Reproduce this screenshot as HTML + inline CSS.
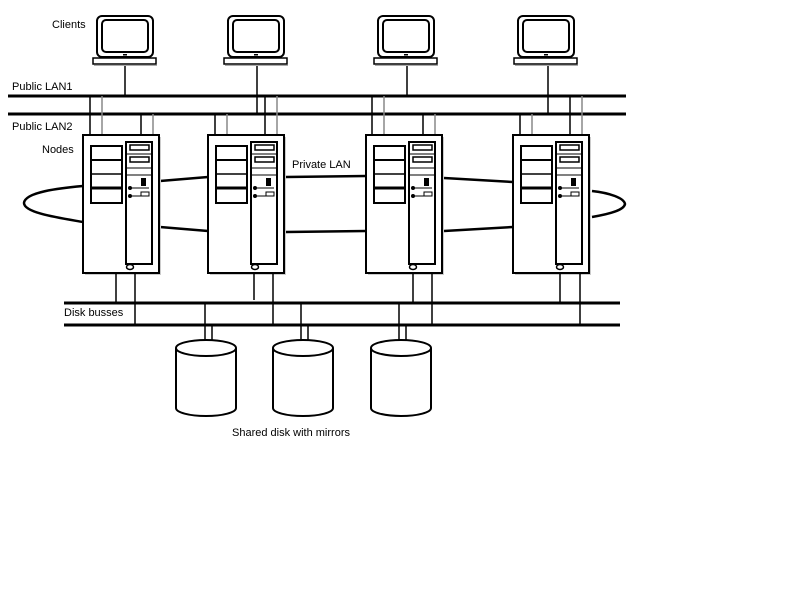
<!DOCTYPE html>
<html><head><meta charset="utf-8"><style>
html,body{margin:0;padding:0;background:#fff;width:800px;height:600px;overflow:hidden}
text{font-family:"Liberation Sans",sans-serif;font-size:11px;fill:#000}
</style></head><body>
<svg width="800" height="600" xmlns="http://www.w3.org/2000/svg">
<defs>
<g id="laptop">
 <rect x="-28" y="16" width="56" height="41" rx="5" fill="#fff" stroke="#000" stroke-width="2"/>
 <rect x="-23" y="20" width="46" height="32" rx="4" fill="#fff" stroke="#000" stroke-width="2"/>
 <rect x="-2" y="54" width="4" height="1.5" fill="#000"/>
 <rect x="-32" y="58" width="63" height="6" fill="#fff" stroke="#000" stroke-width="1.5"/>
 <line x1="-31" y1="65.5" x2="32" y2="65.5" stroke="#aaa" stroke-width="1"/>
</g>
<g id="node">
 <rect x="2" y="2" width="76" height="138" fill="#ccc"/>
 <rect x="0" y="0" width="76" height="138" fill="#fff" stroke="#000" stroke-width="2"/>
 <rect x="8" y="11" width="31" height="57" fill="#fff" stroke="#000" stroke-width="2"/>
 <line x1="8" y1="25" x2="39" y2="25" stroke="#000" stroke-width="2"/>
 <line x1="8" y1="39" x2="39" y2="39" stroke="#000" stroke-width="1.5"/>
 <line x1="8" y1="53" x2="39" y2="53" stroke="#000" stroke-width="3"/>
 <rect x="43" y="7" width="26" height="122" fill="#fff" stroke="#000" stroke-width="2"/>
 <rect x="47" y="10" width="19" height="5" fill="#fff" stroke="#000" stroke-width="1.5"/>
 <rect x="47" y="22" width="19" height="5" fill="#fff" stroke="#000" stroke-width="1.5"/>
 <line x1="43" y1="19" x2="69" y2="19" stroke="#000" stroke-width="1"/>
 <line x1="43" y1="33" x2="69" y2="33" stroke="#000" stroke-width="1"/>
 <line x1="43" y1="40" x2="69" y2="40" stroke="#000" stroke-width="1"/>
 <rect x="58" y="43" width="5" height="8" fill="#000"/>
 <circle cx="47" cy="53" r="2" fill="#000"/>
 <line x1="47" y1="53" x2="66" y2="53" stroke="#000" stroke-width="1"/>
 <circle cx="47" cy="61" r="2" fill="#000"/>
 <line x1="47" y1="61" x2="66" y2="61" stroke="#000" stroke-width="1"/>
 <rect x="58" y="57" width="8" height="4" fill="#fff" stroke="#000" stroke-width="1"/>
 <ellipse cx="47" cy="132" rx="3.5" ry="2.5" fill="#fff" stroke="#000" stroke-width="1.5"/>
</g>
<g id="disk">
 <path d="M0,10 L0,70 A30,8 0 0 0 60,70 L60,10" fill="#fff" stroke="#000" stroke-width="2"/>
 <ellipse cx="30" cy="10" rx="30" ry="8" fill="#fff" stroke="#000" stroke-width="2"/>
</g>
</defs>

<text x="52" y="28">Clients</text>
<text x="12" y="90">Public LAN1</text>
<text x="12" y="130">Public LAN2</text>
<text x="42" y="153">Nodes</text>
<text x="292" y="168">Private LAN</text>
<text x="64" y="316">Disk busses</text>
<text x="232" y="436">Shared disk with mirrors</text>

<!-- laptop stems -->
<g stroke="#000" stroke-width="1.5">
<line x1="125" y1="65" x2="125" y2="96"/>
<line x1="257" y1="65" x2="257" y2="114"/>
<line x1="407" y1="65" x2="407" y2="96"/>
<line x1="548" y1="65" x2="548" y2="114"/>
</g>
<g transform="translate(125,0)"><use href="#laptop"/></g>
<g transform="translate(256,0)"><use href="#laptop"/></g>
<g transform="translate(406,0)"><use href="#laptop"/></g>
<g transform="translate(546,0)"><use href="#laptop"/></g>

<!-- LANs -->
<line x1="8" y1="96" x2="626" y2="96" stroke="#000" stroke-width="3"/>
<line x1="8" y1="114" x2="626" y2="114" stroke="#000" stroke-width="3"/>

<!-- drops -->
<g stroke-width="1.5">
<line x1="90" y1="96" x2="90" y2="135" stroke="#000"/>
<line x1="102" y1="96" x2="102" y2="135" stroke="#888"/>
<line x1="141" y1="114" x2="141" y2="135" stroke="#000"/>
<line x1="153" y1="114" x2="153" y2="135" stroke="#888"/>
<line x1="215" y1="114" x2="215" y2="135" stroke="#000"/>
<line x1="227" y1="114" x2="227" y2="135" stroke="#888"/>
<line x1="265" y1="96" x2="265" y2="135" stroke="#000"/>
<line x1="277" y1="96" x2="277" y2="135" stroke="#888"/>
<line x1="372" y1="96" x2="372" y2="135" stroke="#000"/>
<line x1="384" y1="96" x2="384" y2="135" stroke="#888"/>
<line x1="423" y1="114" x2="423" y2="135" stroke="#000"/>
<line x1="435" y1="114" x2="435" y2="135" stroke="#888"/>
<line x1="520" y1="114" x2="520" y2="135" stroke="#000"/>
<line x1="532" y1="114" x2="532" y2="135" stroke="#888"/>
<line x1="570" y1="96" x2="570" y2="135" stroke="#000"/>
<line x1="582" y1="96" x2="582" y2="135" stroke="#888"/>
</g>

<!-- private LAN -->
<g fill="none" stroke="#000" stroke-width="2.5">
<path d="M83,186 C60,188 25,192 24,203 C24,213 60,218 83,222"/>
<line x1="160" y1="181" x2="208" y2="177"/>
<line x1="160" y1="227" x2="208" y2="231"/>
<line x1="286" y1="177" x2="366" y2="176"/>
<line x1="286" y1="232" x2="366" y2="231"/>
<line x1="444" y1="178" x2="513" y2="182"/>
<line x1="444" y1="231" x2="513" y2="227"/>
<path d="M592,191 C610,193 624,198 625,204 C624,210 610,214 592,217"/>
</g>

<g transform="translate(83,135)"><use href="#node"/></g>
<g transform="translate(208,135)"><use href="#node"/></g>
<g transform="translate(366,135)"><use href="#node"/></g>
<g transform="translate(513,135)"><use href="#node"/></g>

<!-- disk bus drops -->
<g stroke="#000" stroke-width="1.5">
<line x1="116" y1="273" x2="116" y2="303"/>
<line x1="135" y1="273" x2="135" y2="325"/>
<line x1="254" y1="273" x2="254" y2="300"/>
<line x1="273" y1="273" x2="273" y2="325"/>
<line x1="413" y1="273" x2="413" y2="303"/>
<line x1="432" y1="273" x2="432" y2="325"/>
<line x1="560" y1="273" x2="560" y2="303"/>
<line x1="580" y1="273" x2="580" y2="325"/>
<line x1="205" y1="303" x2="205" y2="340"/>
<line x1="212" y1="325" x2="212" y2="340"/>
<line x1="301" y1="303" x2="301" y2="340"/>
<line x1="308" y1="325" x2="308" y2="340"/>
<line x1="399" y1="303" x2="399" y2="340"/>
<line x1="406" y1="325" x2="406" y2="340"/>
</g>
<line x1="64" y1="303" x2="620" y2="303" stroke="#000" stroke-width="3"/>
<line x1="64" y1="325" x2="620" y2="325" stroke="#000" stroke-width="3"/>

<g transform="translate(176,338)"><use href="#disk"/></g>
<g transform="translate(273,338)"><use href="#disk"/></g>
<g transform="translate(371,338)"><use href="#disk"/></g>
</svg>
</body></html>
